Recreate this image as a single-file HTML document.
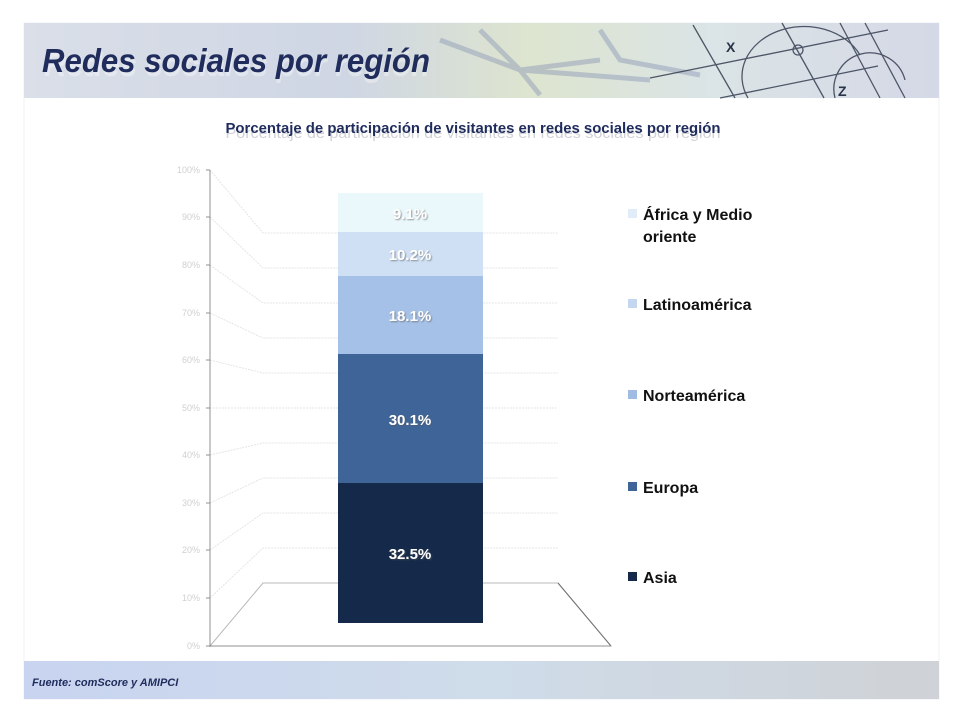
<!DOCTYPE html>
<html><head><meta charset="utf-8"><style>
html,body{margin:0;padding:0;background:#fff;}
svg{display:block;font-family:"Liberation Sans",sans-serif;}
</style></head><body>
<svg width="961" height="721" viewBox="0 0 961 721" xmlns="http://www.w3.org/2000/svg">
<defs>
<linearGradient id="hdr" x1="0" x2="1" y1="0" y2="0">
<stop offset="0" stop-color="#dadfe8"/>
<stop offset="0.35" stop-color="#cfd6e4"/>
<stop offset="0.55" stop-color="#dde4cf"/>
<stop offset="0.75" stop-color="#dbe4e6"/>
<stop offset="1" stop-color="#d5d8e6"/>
</linearGradient>
<linearGradient id="ftr" x1="0" x2="1" y1="0" y2="0">
<stop offset="0" stop-color="#c8d4f0"/>
<stop offset="0.5" stop-color="#cfdcea"/>
<stop offset="1" stop-color="#cfd2d6"/>
</linearGradient>
<filter id="sh" x="-10%" y="-10%" width="120%" height="140%"><feDropShadow dx="1" dy="1" stdDeviation="0.8" flood-color="#555" flood-opacity="0.6"/></filter>
</defs>
<rect x="24" y="23" width="915" height="676" fill="#fff" stroke="#eef0f6"/>
<rect x="24" y="23" width="915" height="75" fill="url(#hdr)"/>
<g stroke="#8a96b4" stroke-width="5" opacity="0.45" fill="none">
<path d="M440 40 L520 70 L600 60 M520 70 L540 95 M480 30 L520 70 L650 80"/>
<path d="M600 30 L620 60 L700 75"/>
</g>
<g stroke="#2a3448" stroke-width="1.3" fill="none" opacity="0.8">
<line x1="693" y1="25" x2="735" y2="98"/>
<line x1="782" y1="23" x2="824" y2="98"/>
<line x1="840" y1="23" x2="880" y2="98"/>
<line x1="865" y1="23" x2="905" y2="98"/>
<line x1="650" y1="78" x2="888" y2="30"/>
<line x1="720" y1="98" x2="878" y2="66"/>
<circle cx="798" cy="50" r="5"/>
<path d="M835 98 A35 35 0 0 1 905 80"/>
<path d="M748 98 A62 50 0 0 1 860 55"/>
</g>
<text x="726" y="52" font-size="14" font-weight="bold" fill="#2a3448">X</text>
<text x="838" y="96" font-size="14" font-weight="bold" fill="#2a3448">Z</text>
<text x="44" y="76" font-size="33" font-weight="bold" font-style="italic" fill="#ffffff" opacity="0.35" textLength="386" lengthAdjust="spacingAndGlyphs">Redes sociales por región</text>
<text x="42" y="72" font-size="33" font-weight="bold" font-style="italic" fill="#1f2c5c" textLength="388" lengthAdjust="spacingAndGlyphs">Redes sociales por región</text>
<text x="473" y="138" font-size="15" fill="#d0d2d8" text-anchor="middle" textLength="495" lengthAdjust="spacingAndGlyphs">Porcentaje de participación de visitantes en redes sociales por región</text>
<text x="473" y="133" font-size="15" font-weight="bold" fill="#1f2c5c" text-anchor="middle" textLength="495" lengthAdjust="spacingAndGlyphs">Porcentaje de participación de visitantes en redes sociales por región</text>
<g stroke="#e3e6e3" stroke-width="1" fill="none" stroke-dasharray="2,1">
<polyline points="210,170 263,233 558,233"/>
<polyline points="210,217 263,268 558,268"/>
<polyline points="210,265 263,303 558,303"/>
<polyline points="210,313 263,338 558,338"/>
<polyline points="210,360 263,373 558,373"/>
<polyline points="210,408 263,408 558,408"/>
<polyline points="210,455 263,443 558,443"/>
<polyline points="210,503 263,478 558,478"/>
<polyline points="210,550 263,513 558,513"/>
<polyline points="210,598 263,548 558,548"/>
</g>
<polygon points="210,646 263,583 558,583 611,646" fill="none" stroke="#b8b8b8"/>
<line x1="558" y1="583" x2="611" y2="646" stroke="#707070"/>
<line x1="210" y1="170" x2="210" y2="647" stroke="#909090"/>
<line x1="210" y1="646" x2="611" y2="646" stroke="#909090"/>
<g stroke="#909090">
<line x1="206" y1="170" x2="210" y2="170"/><line x1="206" y1="217" x2="210" y2="217"/><line x1="206" y1="265" x2="210" y2="265"/><line x1="206" y1="313" x2="210" y2="313"/><line x1="206" y1="360" x2="210" y2="360"/><line x1="206" y1="408" x2="210" y2="408"/><line x1="206" y1="455" x2="210" y2="455"/><line x1="206" y1="503" x2="210" y2="503"/><line x1="206" y1="550" x2="210" y2="550"/><line x1="206" y1="598" x2="210" y2="598"/><line x1="206" y1="646" x2="210" y2="646"/>
</g>
<g font-size="9" fill="#d0d0d0" text-anchor="end">
<text x="200" y="173">100%</text><text x="200" y="220">90%</text><text x="200" y="268">80%</text><text x="200" y="316">70%</text><text x="200" y="363">60%</text><text x="200" y="411">50%</text><text x="200" y="458">40%</text><text x="200" y="506">30%</text><text x="200" y="553">20%</text><text x="200" y="601">10%</text><text x="200" y="649">0%</text>
</g>
<rect x="338" y="193" width="145" height="40" fill="#eaf8fc"/>
<rect x="338" y="232" width="145" height="44" fill="#cfe0f5"/>
<rect x="338" y="276" width="145" height="78" fill="#a6c1e7"/>
<rect x="338" y="354" width="145" height="129" fill="#3f6598"/>
<rect x="338" y="483" width="145" height="140" fill="#152a4a"/>
<g font-size="15" font-weight="bold" fill="#fff" text-anchor="middle" filter="url(#sh)">
<text x="410" y="219">9.1%</text>
<text x="410" y="260">10.2%</text>
<text x="410" y="321">18.1%</text>
<text x="410" y="425">30.1%</text>
<text x="410" y="559">32.5%</text>
</g>
<g font-size="16" font-weight="bold" fill="#111">
<rect x="628" y="209" width="9" height="9" fill="#e0ecf8"/>
<text x="643" y="220">África y Medio</text><text x="643" y="242">oriente</text>
<rect x="628" y="299" width="9" height="9" fill="#c5d7f0"/>
<text x="643" y="310">Latinoamérica</text>
<rect x="628" y="390" width="9" height="9" fill="#a0bce4"/>
<text x="643" y="401">Norteamérica</text>
<rect x="628" y="482" width="9" height="9" fill="#3f6598"/>
<text x="643" y="493">Europa</text>
<rect x="628" y="572" width="9" height="9" fill="#152a4a"/>
<text x="643" y="583">Asia</text>
</g>
<rect x="24" y="661" width="915" height="38" fill="url(#ftr)"/>
<text x="32" y="686" font-size="11" font-weight="bold" font-style="italic" fill="#1f2c5c">Fuente: comScore y AMIPCI</text>
</svg>
</body></html>
